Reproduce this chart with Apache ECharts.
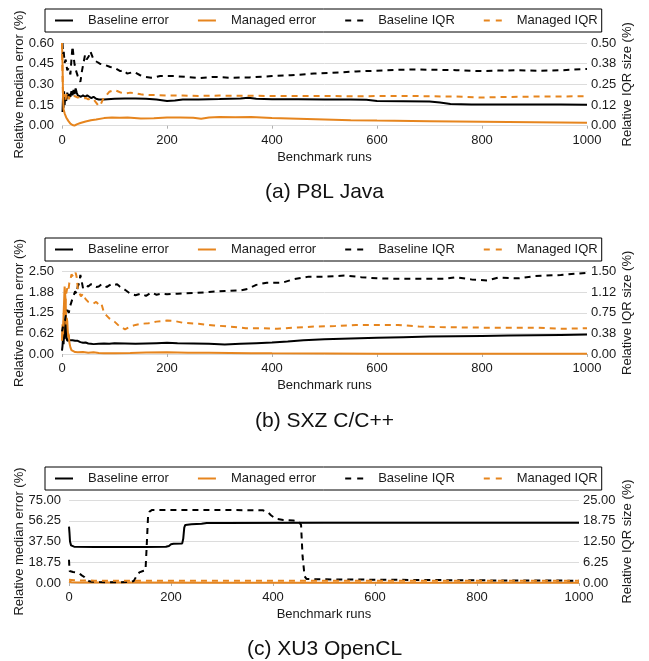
<!DOCTYPE html>
<html>
<head>
<meta charset="utf-8">
<script src="https://cdn.jsdelivr.net/npm/echarts@6/dist/echarts.min.js"></script>
<style>
html,body{margin:0;padding:0;background:#fff;}
#c{width:649px;height:661px;}
</style>
</head>
<body>
<div id="c"></div>
<script>
// ---------- data ----------
const seriesNames = ['Baseline error', 'Managed error', 'Baseline IQR', 'Managed IQR'];
const captions = ['(a) P8L Java', '(b) SXZ C/C++', '(c) XU3 OpenCL'];
const xTicks = [0, 200, 400, 600, 800, 1000];

// P8L Java
const p8lLeftTicks = ['0.00', '0.15', '0.30', '0.45', '0.60'];
const p8lRightTicks = ['0.00', '0.12', '0.25', '0.38', '0.50'];
const p8lBaselineError = [[1,0.10],[2,0.22],[3,0.13],[4,0.25],[5,0.15],[6,0.21],[8,0.18],[10,0.24],[12,0.20],[14,0.23],[16,0.21],[18,0.25],[20,0.22],[22,0.26],[24,0.23],[26,0.27],[28,0.24],[30,0.22],[33,0.23],[36,0.21],[40,0.22],[44,0.21],[48,0.22],[52,0.21],[56,0.20],[60,0.21],[65,0.195],[70,0.19],[80,0.19],[100,0.195],[120,0.197],[140,0.198],[160,0.196],[180,0.19],[200,0.18],[215,0.182],[230,0.19],[260,0.19],[300,0.193],[340,0.198],[355,0.203],[370,0.196],[400,0.192],[450,0.192],[500,0.19],[550,0.19],[580,0.188],[600,0.18],[650,0.178],[700,0.176],[720,0.168],[740,0.157],[780,0.154],[850,0.154],[900,0.153],[950,0.153],[1000,0.152]];
const p8lManagedError = [[0,0.6],[1,0.45],[2,0.2],[3,0.12],[5,0.09],[8,0.06],[12,0.035],[16,0.015],[20,0.005],[24,0.0],[28,0.01],[35,0.02],[45,0.03],[55,0.04],[65,0.045],[80,0.055],[95,0.06],[110,0.058],[125,0.06],[150,0.052],[175,0.054],[200,0.06],[225,0.06],[250,0.057],[265,0.05],[280,0.06],[300,0.063],[330,0.062],[360,0.063],[400,0.055],[450,0.05],[500,0.045],[550,0.04],[600,0.037],[700,0.033],[800,0.029],[900,0.025],[1000,0.022]];
const p8lBaselineIQR = [[1,0.5],[2,0.42],[3,0.46],[5,0.38],[7,0.40],[10,0.335],[13,0.35],[16,0.31],[18,0.40],[20,0.48],[22,0.42],[24,0.37],[27,0.33],[30,0.30],[33,0.28],[35,0.265],[38,0.33],[41,0.38],[44,0.43],[47,0.40],[51,0.42],[54,0.45],[57,0.44],[60,0.40],[63,0.39],[67,0.385],[72,0.375],[80,0.37],[92,0.355],[100,0.35],[111,0.33],[118,0.335],[124,0.315],[137,0.325],[149,0.305],[160,0.295],[170,0.29],[187,0.30],[213,0.30],[238,0.295],[263,0.288],[290,0.295],[320,0.29],[357,0.292],[400,0.30],[436,0.305],[480,0.315],[515,0.32],[560,0.328],[594,0.332],[640,0.338],[672,0.34],[712,0.338],[751,0.336],[799,0.33],[830,0.333],[870,0.335],[909,0.332],[950,0.335],[1000,0.343]];
const p8lManagedIQR = [[0,0.5],[1,0.3],[2,0.17],[4,0.19],[6,0.15],[8,0.18],[10,0.2],[13,0.16],[16,0.185],[20,0.18],[25,0.178],[30,0.17],[35,0.172],[40,0.165],[45,0.168],[50,0.16],[55,0.163],[60,0.16],[65,0.14],[70,0.118],[74,0.13],[78,0.16],[82,0.175],[86,0.19],[90,0.205],[95,0.21],[100,0.215],[105,0.21],[112,0.2],[120,0.195],[130,0.2],[140,0.196],[150,0.19],[160,0.186],[180,0.185],[200,0.183],[230,0.182],[260,0.18],[300,0.182],[350,0.181],[400,0.18],[450,0.179],[500,0.18],[550,0.178],[600,0.179],[650,0.18],[700,0.178],[750,0.176],[800,0.17],[830,0.173],[900,0.176],[950,0.177],[1000,0.178]];

// SXZ C/C++
const sxzLeftTicks = ['0.00', '0.62', '1.25', '1.88', '2.50'];
const sxzRightTicks = ['0.00', '0.38', '0.75', '1.12', '1.50'];
const sxzBaselineError = [[0,0.1],[1,0.25],[2,0.5],[3,0.3],[4,0.7],[5,0.45],[6,1.0],[7,0.6],[8,1.05],[9,0.5],[10,0.4],[12,0.35],[14,0.42],[17,0.38],[20,0.42],[25,0.4],[30,0.4],[35,0.36],[40,0.34],[45,0.35],[50,0.32],[55,0.31],[60,0.3],[70,0.31],[80,0.32],[90,0.31],[100,0.33],[120,0.32],[140,0.31],[160,0.32],[180,0.33],[200,0.34],[220,0.33],[250,0.32],[280,0.31],[310,0.29],[340,0.31],[370,0.33],[400,0.35],[430,0.38],[460,0.42],[500,0.45],[550,0.47],[600,0.49],[650,0.51],[700,0.53],[750,0.54],[800,0.55],[850,0.56],[900,0.57],[950,0.58],[1000,0.59]];
const sxzManagedError = [[0,0.4],[1,0.9],[2,0.6],[3,1.2],[4,1.6],[5,2.05],[6,2.1],[7,1.6],[8,0.9],[9,1.1],[10,1.0],[11,0.7],[12,0.5],[13,0.6],[14,0.35],[16,0.2],[18,0.12],[20,0.07],[25,0.06],[30,0.05],[40,0.06],[50,0.04],[60,0.05],[70,0.03],[80,0.025],[100,0.02],[130,0.03],[160,0.045],[200,0.05],[240,0.04],[280,0.035],[320,0.03],[360,0.025],[400,0.02],[500,0.015],[600,0.01],[700,0.008],[800,0.006],[900,0.005],[1000,0.005]];
const sxzBaselineIQR = [[0,0.41],[2,0.5],[5,0.56],[7,0.7],[10,0.8],[13,0.75],[15,0.86],[18,0.95],[20,1.01],[23,0.98],[25,1.14],[28,1.1],[30,1.23],[33,1.3],[35,1.44],[38,1.3],[40,1.2],[45,1.25],[50,1.23],[55,1.27],[60,1.26],[65,1.22],[70,1.23],[75,1.27],[80,1.26],[85,1.22],[90,1.25],[95,1.28],[100,1.26],[105,1.27],[110,1.23],[120,1.17],[130,1.1],[140,1.07],[150,1.1],[160,1.06],[170,1.12],[180,1.08],[190,1.1],[200,1.09],[220,1.1],[250,1.11],[280,1.13],[310,1.15],[340,1.16],[355,1.19],[370,1.26],[390,1.3],[420,1.3],[440,1.36],[470,1.41],[500,1.41],[540,1.43],[570,1.4],[600,1.38],[640,1.37],[680,1.37],[730,1.37],[750,1.4],[780,1.36],[810,1.34],[830,1.39],[870,1.38],[900,1.42],[950,1.44],[1000,1.48]];
const sxzManagedIQR = [[0,0.3],[2,0.45],[4,0.7],[6,0.9],[8,1.1],[10,1.2],[12,1.15],[14,1.3],[16,1.35],[18,1.45],[20,1.47],[22,1.4],[24,1.42],[26,1.48],[28,1.4],[30,1.2],[33,1.12],[36,1.05],[40,1.1],[45,1.0],[50,0.95],[55,0.93],[60,0.92],[65,0.95],[70,0.9],[75,0.92],[80,0.75],[85,0.7],[90,0.65],[100,0.59],[110,0.5],[120,0.45],[130,0.5],[140,0.53],[150,0.55],[165,0.56],[180,0.59],[200,0.61],[215,0.6],[230,0.57],[260,0.55],[290,0.52],[320,0.5],[350,0.47],[380,0.47],[410,0.46],[440,0.48],[480,0.5],[520,0.51],[560,0.53],[600,0.53],[640,0.53],[680,0.5],[720,0.49],[800,0.48],[900,0.48],[950,0.46],[1000,0.47]];

// XU3 OpenCL
const xu3LeftTicks = ['0.00', '18.75', '37.50', '56.25', '75.00'];
const xu3RightTicks = ['0.00', '6.25', '12.50', '18.75', '25.00'];
const xu3BaselineError = [[0,51],[1,45],[2,37.5],[4,34],[6,33],[10,32.8],[50,32.6],[100,32.5],[150,32.6],[190,32.8],[196,33.5],[200,35],[205,35.5],[222,35.8],[224,40],[226,50],[228,52.5],[240,53],[260,53.5],[270,54.2],[300,54.3],[500,54.4],[700,54.5],[1000,54.5]];
const xu3ManagedError = [[0,1.2],[5,0.6],[20,0.4],[100,0.35],[300,0.3],[600,0.3],[1000,0.3]];
const xu3BaselineIQR = [[0,7],[1,3.6],[3,3.4],[8,3.3],[14,3.2],[20,2.9],[25,2.3],[30,1.8],[35,1.0],[40,0.5],[45,0.4],[60,0.3],[80,0.2],[100,0.2],[120,0.3],[127,0.6],[132,2],[138,3.2],[145,3.6],[150,3.8],[152,10],[155,20],[158,21.5],[163,22],[200,22],[300,22],[380,21.9],[390,21.3],[396,20.4],[405,19.4],[420,19],[440,18.8],[450,18.6],[455,17.5],[458,8],[462,2],[466,1.2],[500,1.1],[600,1.0],[700,0.9],[800,0.8],[900,0.75],[1000,0.7]];
const xu3ManagedIQR = [[0,1.0],[10,0.8],[50,0.7],[200,0.7],[500,0.68],[1000,0.65]];

// ---------- styling / layout ----------
const BLACK = '#000000';
const ORANGE = '#E6851E';
const FONT = 'Liberation Sans, Arial, Helvetica, sans-serif';
const TEXT = '#1a1a1a';
const DASH = [6, 5];

const panels = [
  { left: 62, right: 62, top: 43, height: 82.7, lmax: 0.6, rmax: 0.5, lt: p8lLeftTicks, rt: p8lRightTicks,
    data: [p8lBaselineError, p8lManagedError, p8lBaselineIQR, p8lManagedIQR], legendTop: 9, capTop: 181.5, lgap: 36.5, rgap: 33.5 },
  { left: 62, right: 62, top: 271.7, height: 82.3, lmax: 2.5, rmax: 1.5, lt: sxzLeftTicks, rt: sxzRightTicks,
    data: [sxzBaselineError, sxzManagedError, sxzBaselineIQR, sxzManagedIQR], legendTop: 238, capTop: 410.5, lgap: 36.5, rgap: 33.5 },
  { left: 69, right: 70, top: 500, height: 83, lmax: 75, rmax: 25, lt: xu3LeftTicks, rt: xu3RightTicks,
    data: [xu3BaselineError, xu3ManagedError, xu3BaselineIQR, xu3ManagedIQR], legendTop: 467, capTop: 638.5, lgap: 43.5, rgap: 41.5 }
];

const grid = [], xAxis = [], yAxis = [], series = [], legend = [], title = [];
const solidIcon = 'path://M0,0h18v2h-18z';
const dashIcon = 'path://M0,0h6v2h-6zM12,0h6v2h-6z';

panels.forEach((p, i) => {
  grid.push({ left: p.left, right: p.right, top: p.top, height: p.height, containLabel: false });
  xAxis.push({
    type: 'value', gridIndex: i, min: xTicks[0], max: xTicks[xTicks.length - 1], interval: xTicks[1] - xTicks[0],
    name: 'Benchmark runs', nameLocation: 'middle', nameGap: 25, nameMoveOverlap: false,
    nameTextStyle: { fontFamily: FONT, fontSize: 13, color: TEXT },
    axisLine: { show: false }, axisTick: { show: false }, splitLine: { show: false },
    axisLabel: { fontFamily: FONT, fontSize: 13, color: TEXT, margin: 8, formatter: v => String(Math.round(v)) }
  });
  xAxis.push({
    type: 'value', gridIndex: i, position: 'top', min: xTicks[0], max: xTicks[xTicks.length - 1], interval: xTicks[1] - xTicks[0],
    axisLine: { show: false }, axisLabel: { show: false }, splitLine: { show: false },
    axisTick: { show: true, inside: true, length: 3, lineStyle: { color: '#b0b0b0', width: 1 } }
  });
  const lIdx = yAxis.length;
  yAxis.push({
    type: 'value', gridIndex: i, position: 'left', min: 0, max: p.lmax, interval: p.lmax / 4,
    name: 'Relative median error (%)', nameLocation: 'middle', nameGap: p.lgap, nameRotate: 90, nameMoveOverlap: false,
    nameTextStyle: { fontFamily: FONT, fontSize: 13, color: TEXT },
    axisLine: { show: false }, axisTick: { show: false },
    splitLine: { show: true, lineStyle: { color: '#dcdcdc', width: 1 } },
    axisLabel: { fontFamily: FONT, fontSize: 13, color: TEXT, margin: 8, formatter: (v, idx) => p.lt[idx] }
  });
  yAxis.push({
    type: 'value', gridIndex: i, position: 'right', min: 0, max: p.rmax, interval: p.rmax / 4,
    name: 'Relative IQR size (%)', nameLocation: 'middle', nameGap: p.rgap, nameRotate: 90, nameMoveOverlap: false,
    nameTextStyle: { fontFamily: FONT, fontSize: 13, color: TEXT },
    axisLine: { show: false }, axisTick: { show: false }, splitLine: { show: false },
    axisLabel: { fontFamily: FONT, fontSize: 13, color: TEXT, margin: 4, formatter: (v, idx) => p.rt[idx] }
  });
  const colors = [BLACK, ORANGE, BLACK, ORANGE];
  const dashed = [false, false, true, true];
  const yIdx = [lIdx, lIdx, lIdx + 1, lIdx + 1];
  seriesNames.forEach((nm, k) => {
    series.push({
      type: 'line', name: nm, xAxisIndex: i * 2, yAxisIndex: yIdx[k], data: p.data[k],
      symbol: 'none', showSymbol: false, smooth: false, animation: false,
      color: colors[k], itemStyle: { color: colors[k] },
      lineStyle: { color: colors[k], width: 2, type: dashed[k] ? DASH : 'solid' },
      emphasis: { disabled: true }, z: 2 + k
    });
  });
  legend.push({
    left: 45, top: p.legendTop, orient: 'horizontal',
    borderColor: '#000', borderWidth: 1, backgroundColor: '#fff',
    padding: [5, 4, 5, 10], itemGap: 29, itemWidth: 18, itemHeight: 14,
    selectedMode: false,
    textStyle: { fontFamily: FONT, fontSize: 13, color: TEXT, padding: [0, 0, 0, 10] },
    itemStyle: { borderWidth: 0 },
    data: seriesNames.map((nm, k) => ({ name: nm, icon: dashed[k] ? dashIcon : solidIcon }))
  });
  title.push({
    text: captions[i], left: 'center', top: p.capTop, padding: 0,
    textStyle: { fontFamily: FONT, fontSize: 21, fontWeight: 'normal', color: '#111' }
  });
});

const chart = echarts.init(document.getElementById('c'), null, { renderer: 'canvas' });
chart.setOption({
  animation: false, backgroundColor: '#fff',
  title, grid, xAxis, yAxis, legend, series
});
</script>
</body>
</html>
